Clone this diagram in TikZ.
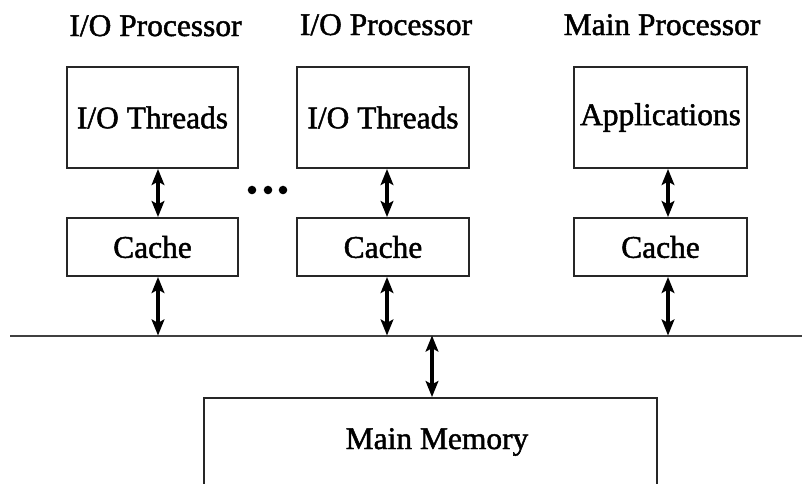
\documentclass[tikz,border=0pt]{standalone}
\usepackage{fontspec}
\newfontfamily\diagfont{Liberation Serif}[FakeBold=1.5]
\usetikzlibrary{arrows.meta}
\begin{document}
\begin{tikzpicture}[x=0.75pt,y=-0.75pt,
  every node/.style={font=\diagfont\fontsize{23.6}{28}\selectfont, text=black},
  framebox/.style={draw=black!85, line width=1.4pt, inner sep=0pt},
  unitbox/.style={framebox, minimum height=75.75pt},
  cachebox/.style={framebox, minimum height=43.5pt},
  heading/.style={anchor=base, inner sep=0pt},
  biarrow/.style={{Stealth[length=12pt,width=9.5pt,inset=2.5pt]}-{Stealth[length=12pt,width=9.5pt,inset=2.5pt]}, line width=2.4pt, black},
  busline/.style={draw=black!75, line width=1.5pt}
]
\useasboundingbox (0,0) rectangle (802,483);
\fill[white] (0,0) rectangle (802,483);
\clip (0,0) rectangle (802,483);

% processor headings
\node[heading] (h1) at (155.5,36) {I/O Processor};
\node[heading] (h2) at (386,35) {I/O Processor};
\node[heading] (h3) at (662,35) {Main Processor};

% processor units
\node[unitbox, minimum width=128.25pt] (u1) at (152.5,117.5) {I/O Threads};
\node[unitbox, minimum width=129pt]    (u2) at (383,117.5)   {I/O Threads};
\node[unitbox, minimum width=129.75pt] (u3) at (660.5,117.5) {Applications};

% caches
\node[cachebox, minimum width=128.25pt] (c1) at (152.5,247) {Cache};
\node[cachebox, minimum width=129pt]    (c2) at (383,247)   {Cache};
\node[cachebox, minimum width=129.75pt] (c3) at (660.5,247) {Cache};

% ellipsis between the I/O processors
\foreach \dx in {252,268,283} \fill (\dx,190) circle[radius=3.2pt];

% system bus
\coordinate (busL) at (10,335.5);
\coordinate (busR) at (802,335.5);
\draw[busline] (busL) -- (busR);

% main memory (runs off the lower edge)
\node[framebox, minimum width=339.75pt, minimum height=150pt] (mem) at (430.5,498) {};
\node[heading] (memtext) at (437,449) {Main Memory};

% columns of the vertical links
\coordinate (k1) at (158,0);
\coordinate (k2) at (387,0);
\coordinate (k3) at (668,0);
\coordinate (km) at (432,0);

% unit <-> cache
\draw[biarrow] (u1.south -| k1) -- (c1.north -| k1);
\draw[biarrow] (u2.south -| k2) -- (c2.north -| k2);
\draw[biarrow] (u3.south -| k3) -- (c3.north -| k3);

% cache <-> bus
\draw[biarrow] (c1.south -| k1) -- (busL -| k1);
\draw[biarrow] (c2.south -| k2) -- (busL -| k2);
\draw[biarrow] (c3.south -| k3) -- (busL -| k3);

% bus <-> memory
\draw[biarrow] (busL -| km) -- (mem.north -| km);
\end{tikzpicture}
\end{document}
